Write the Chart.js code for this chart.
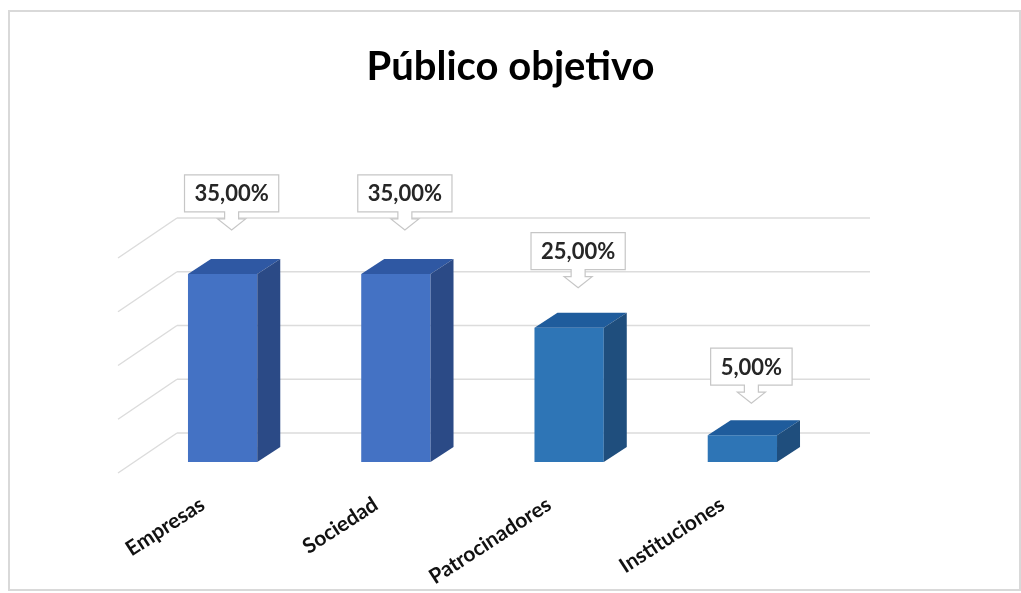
<!DOCTYPE html>
<html>
<head>
<meta charset="utf-8">
<title>Público objetivo</title>
<script src="https://cdn.jsdelivr.net/npm/chart.js@4.4.1/dist/chart.umd.min.js"></script>
<style>
  html, body { margin: 0; padding: 0; background: #ffffff; }
  canvas { display: block; }
</style>
</head>
<body>
<canvas id="publicoChart" width="1021" height="593"></canvas>
<script>
// Categories and shares (percent)
const categories = ["Empresas", "Sociedad", "Patrocinadores", "Instituciones"];
const shares = [35, 35, 25, 5];
const valueLabels = ["35,00%", "35,00%", "25,00%", "5,00%"];
const gridValues = [0, 10, 20, 30, 40];

// Face colours for each bar: front, top, side
const frontColors = ["#4472c4", "#4472c4", "#2e75b6", "#2e75b6"];
const topColors = ["#2f58a3", "#2f58a3", "#1f5c9c", "#1f5c9c"];
const sideColors = ["#2b4a86", "#2b4a86", "#1f4e7d", "#1f4e7d"];

// oblique projection offsets
const BAR_DEPTH = { x: 23, y: -15 };
const WALL = { x: 41, y: -29 };
const SIDE_WALL = { x: -59, y: 40 };

const frame = {
    id: 'frame',
    beforeDraw(chart) {
        const ctx = chart.ctx;
        ctx.save();
        ctx.fillStyle = '#ffffff';
        ctx.fillRect(0, 0, chart.width, chart.height);
        ctx.strokeStyle = '#d9d9d9';
        ctx.lineWidth = 2;
        ctx.strokeRect(9, 11, 1011, 579);
        ctx.restore();
    }
};

// back wall and side wall grid lines
const walls = {
    id: 'walls',
    beforeDatasetsDraw(chart) {
        const ctx = chart.ctx;
        const area = chart.chartArea;
        const y = chart.scales.y;
        ctx.save();
        ctx.strokeStyle = '#dcdcdc';
        ctx.lineWidth = 1.5;
        gridValues.forEach(v => {
            const py = y.getPixelForValue(v) + WALL.y;
            const x0 = area.left + WALL.x;
            ctx.beginPath();
            ctx.moveTo(x0, py);
            ctx.lineTo(area.right + WALL.x, py);
            ctx.moveTo(x0, py);
            ctx.lineTo(x0 + SIDE_WALL.x, py + SIDE_WALL.y);
            ctx.stroke();
        });
        ctx.restore();
    }
};

// top and side faces plus the callout labels
const bars3d = {
    id: 'bars3d',
    afterDatasetsDraw(chart) {
        const ctx = chart.ctx;
        const meta = chart.getDatasetMeta(0);
        ctx.save();
        meta.data.forEach((bar, i) => {
            const { x, y, base, width } = bar.getProps(['x', 'y', 'base', 'width'], true);
            const l = x - width / 2, r = x + width / 2;
            const dx = BAR_DEPTH.x, dy = BAR_DEPTH.y;

            ctx.fillStyle = topColors[i];
            ctx.beginPath();
            ctx.moveTo(l, y);
            ctx.lineTo(r, y);
            ctx.lineTo(r + dx, y + dy);
            ctx.lineTo(l + dx, y + dy);
            ctx.closePath();
            ctx.fill();

            ctx.fillStyle = sideColors[i];
            ctx.beginPath();
            ctx.moveTo(r, y);
            ctx.lineTo(r + dx, y + dy);
            ctx.lineTo(r + dx, base + dy);
            ctx.lineTo(r, base);
            ctx.closePath();
            ctx.fill();

            // callout box with a block arrow pointing at the bar
            const cx = x + 9;
            const tip = y - (30 + shares[i] * 0.4);
            const text = valueLabels[i];
            ctx.font = 'bold 22px Lato';
            const tw = ctx.measureText(text).width;
            const bw = tw + 20, bh = 37;
            const bottom = tip - 18;
            const top = bottom - bh;
            const bl = cx - bw / 2, br = cx + bw / 2;
            ctx.beginPath();
            ctx.moveTo(bl, top);
            ctx.lineTo(br, top);
            ctx.lineTo(br, bottom);
            ctx.lineTo(cx + 7, bottom);
            ctx.lineTo(cx + 7, bottom + 7);
            ctx.lineTo(cx + 14, bottom + 7);
            ctx.lineTo(cx, tip);
            ctx.lineTo(cx - 14, bottom + 7);
            ctx.lineTo(cx - 7, bottom + 7);
            ctx.lineTo(cx - 7, bottom);
            ctx.lineTo(bl, bottom);
            ctx.closePath();
            ctx.fillStyle = '#ffffff';
            ctx.fill();
            ctx.strokeStyle = '#c6c6c6';
            ctx.lineWidth = 1.2;
            ctx.stroke();

            ctx.fillStyle = '#262626';
            ctx.textAlign = 'center';
            ctx.textBaseline = 'middle';
            ctx.fillText(text, cx, top + bh / 2 + 1);
        });
        ctx.restore();
    }
};

const ctx = document.getElementById('publicoChart').getContext('2d');
const publicoChart = new Chart(ctx, {
    type: 'bar',
    data: {
        labels: categories,
        datasets: [{
            data: shares,
            backgroundColor: frontColors,
            borderWidth: 0,
            categoryPercentage: 1,
            barPercentage: 0.4
        }]
    },
    options: {
        responsive: false,
        animation: false,
        devicePixelRatio: 1,
        layout: { padding: 0 },
        scales: {
            x: {
                grid: { display: false },
                border: { display: false },
                ticks: {
                    color: '#111111',
                    font: { family: 'Lato', size: 21, weight: 'bold' },
                    minRotation: 33,
                    maxRotation: 33,
                    padding: 22,
                    labelOffset: -20
                },
                afterFit(scale) { scale.height = 131; }
            },
            y: {
                min: 0,
                max: 40,
                ticks: { display: false, stepSize: 10 },
                grid: { display: false },
                border: { display: false },
                afterFit(scale) { scale.width = 136; }
            },
            yRight: {
                position: 'right',
                min: 0,
                max: 40,
                ticks: { display: false },
                grid: { display: false },
                border: { display: false },
                afterFit(scale) { scale.width = 192; }
            }
        },
        plugins: {
            legend: { display: false },
            tooltip: { enabled: false },
            title: {
                display: true,
                text: 'Público objetivo',
                color: '#000000',
                font: { family: 'Lato', size: 40, weight: 'bold', lineHeight: 1.2 },
                padding: { top: 43, bottom: 156 }
            }
        }
    },
    plugins: [frame, walls, bars3d]
});
</script>
</body>
</html>
